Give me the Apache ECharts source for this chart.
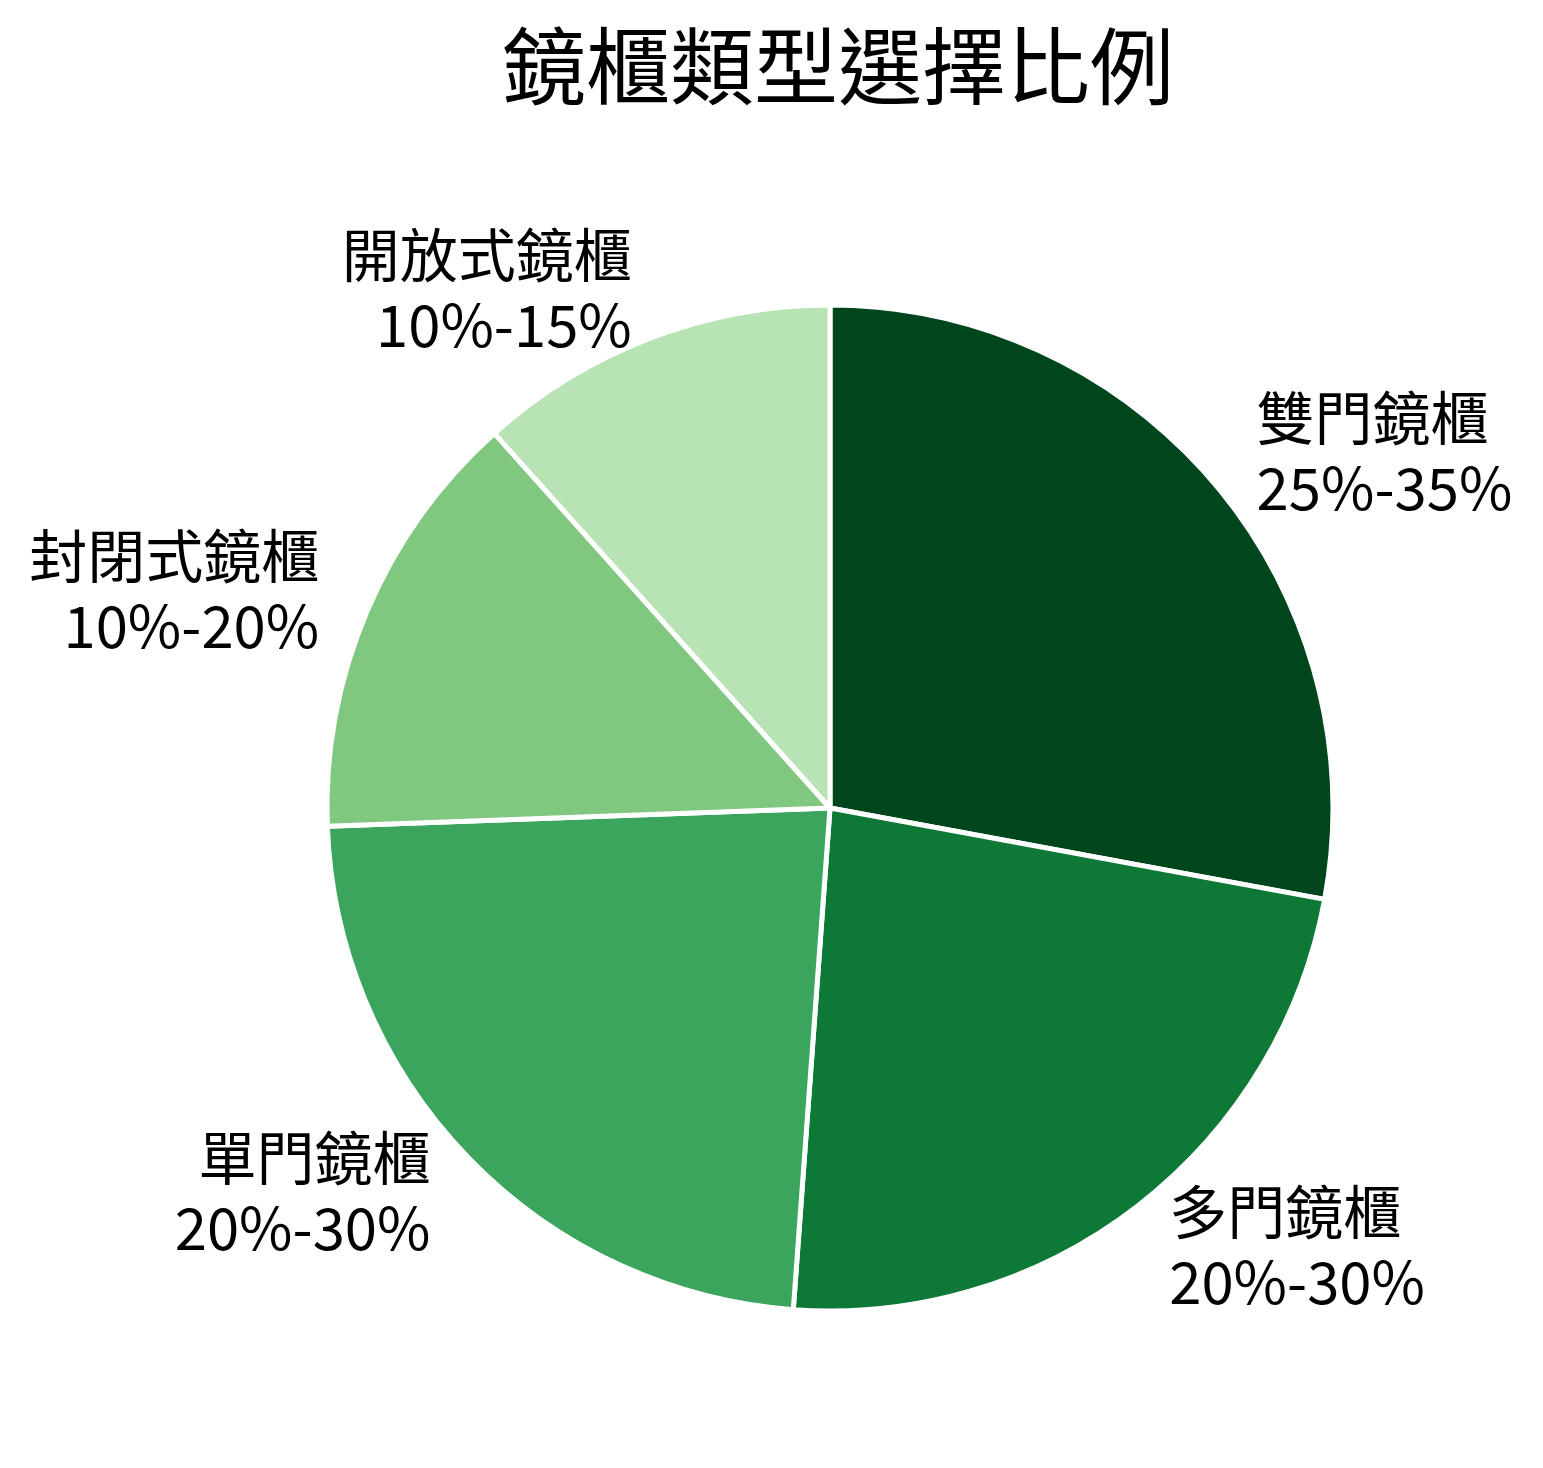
<!DOCTYPE html>
<html>
<head>
<meta charset="utf-8">
<script src="https://cdn.jsdelivr.net/npm/echarts@6/dist/echarts.min.js"></script>
<style>
  html, body { margin: 0; padding: 0; background: #fff; }
  #main { width: 1543px; height: 1468px; }
</style>
</head>
<body>
<div id="main"></div>
<script>
var chartDom = document.getElementById('main');
var myChart = echarts.init(chartDom);
var option;

// Cabinet types, the range shown in the label and the value used for the slice (middle of the range)
const cabinetNames = ['雙門鏡櫃', '多門鏡櫃', '單門鏡櫃', '封閉式鏡櫃', '開放式鏡櫃'];
const rangeLabels = ['25%-35%', '20%-30%', '20%-30%', '10%-20%', '10%-15%'];
const sliceValues = [30, 25, 25, 15, 12.5];
const sliceColors = ['#00461c', '#0e7837', '#3ca55d', '#80c880', '#b8e3b4'];

const pieData = cabinetNames.map(function (name, i) {
    return {
        name: name,
        value: sliceValues[i],
        range: rangeLabels[i],
        itemStyle: { color: sliceColors[i] }
    };
});

option = {
    backgroundColor: '#ffffff',
    animation: false,
    title: {
        text: '鏡櫃類型選擇比例',
        left: 497, // title is centred over the pie, not the page
        top: 19,
        textStyle: {
            fontFamily: 'Noto Sans CJK TC',
            fontSize: 84,
            fontWeight: 'normal',
            color: '#000'
        }
    },
    series: [
        {
            type: 'pie',
            center: [830, 808],
            radius: 503,
            startAngle: 90,
            clockwise: true,
            avoidLabelOverlap: false,
            itemStyle: {
                borderColor: '#ffffff',
                borderWidth: 5
            },
            label: {
                show: true,
                position: 'outside',
                distanceToLabelLine: 0,
                formatter: function (p) {
                    return p.name + '\n' + p.data.range;
                },
                fontFamily: 'Noto Sans CJK TC',
                fontSize: 58,
                lineHeight: 70,
                color: '#000'
            },
            labelLine: {
                show: false,
                length: 52,
                length2: 0
            },
            emphasis: { disabled: true },
            data: pieData
        }
    ]
};

myChart.setOption(option);
</script>
</body>
</html>
